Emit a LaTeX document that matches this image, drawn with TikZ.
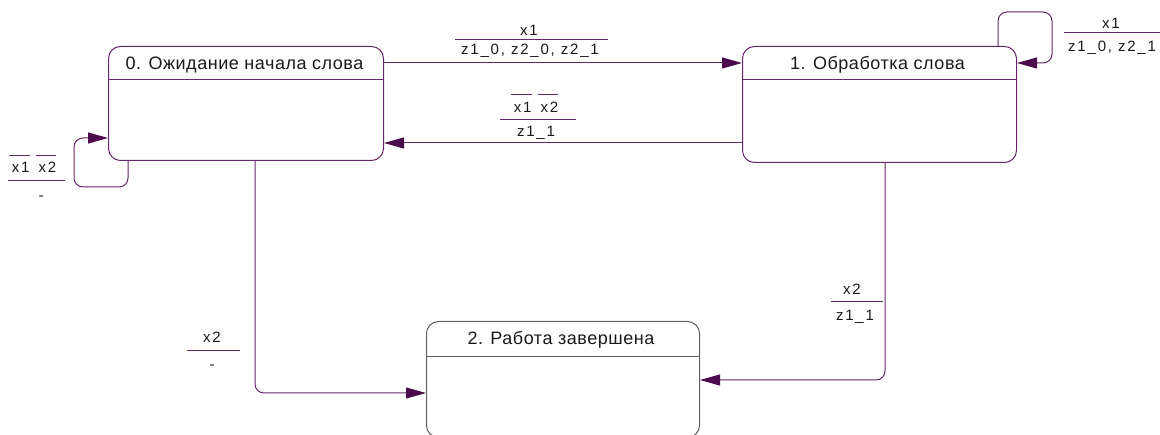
\documentclass[tikz,border=0pt]{standalone}
\usepackage{fontspec}
\setmainfont{Liberation Sans}
\newfontfamily\hdfont{Liberation Sans}[LetterSpace=3]
\newfontfamily\lbfont{Liberation Sans}[LetterSpace=12]
\usetikzlibrary{arrows.meta}
\definecolor{boxc}{RGB}{104,40,104}
\definecolor{greyc}{RGB}{96,96,96}
\definecolor{edgec}{RGB}{100,40,100}
\definecolor{tipc}{RGB}{75,10,75}
\definecolor{txtc}{RGB}{25,25,25}
\newcommand\ovbar[1]{\setbox0\hbox{#1}\rlap{\hspace{-3pt}\color{edgec}\rule[\dimexpr\ht0+7pt\relax]{\dimexpr\wd0+3pt\relax}{0.9pt}}\box0}
\begin{document}
\begin{tikzpicture}[x=1pt,y=-1pt,
 state/.style={draw=boxc, line width=1pt, rounded corners=12pt, anchor=north west, inner sep=0pt},
 hdtxt/.style={font=\hdfont\fontsize{18}{21}\selectfont, text=txtc, anchor=base, inner sep=0pt},
 lbtxt/.style={font=\lbfont\fontsize{15}{17}\selectfont, text=txtc, anchor=base, inner sep=0pt},
 edge/.style={draw=edgec, line width=1pt, rounded corners=9pt, -{Triangle[length=20pt,width=11pt,color=tipc]}},
 bar/.style={draw=edgec, line width=1pt}]
\useasboundingbox (0,0) rectangle (1160,435);
% states
\node[state, minimum width=275pt, minimum height=114pt] (s0) at (108,46) {};
\node[state, minimum width=274pt, minimum height=116pt] (s1) at (742,46) {};
\node[state, draw=greyc, minimum width=273pt, minimum height=116pt] (s2) at (426,321) {};
\draw[draw=boxc, line width=1pt] (s0.west |- 0,80) -- (s0.east |- 0,80);
\draw[draw=boxc, line width=1pt] (s1.west |- 0,80) -- (s1.east |- 0,80);
\draw[draw=greyc, line width=1pt] (s2.west |- 0,357) -- (s2.east |- 0,357);
\node[hdtxt] (h0) at (244.5,69.3) {0. Ожидание начала слова};
\node[hdtxt] (h1) at (877.5,69.3) {1. Обработка слова};
\node[hdtxt] (h2) at (561,345) {2. Работа завершена};
% transitions
\draw[edge] (s0.east |- 0,63) -- (s1.west |- 0,63);
\draw[edge] (s1.west |- 0,143) -- (s0.east |- 0,143);
\draw[edge] (s1.north -| 998,0) |- (1052,12) |- (s1.east |- 0,63);
\draw[edge] (s0.south -| 128,0) |- (74,187) |- (s0.west |- 0,138);
\draw[edge] (s0.south -| 255,0) |- (s2.west |- 0,393);
\draw[edge] (s1.south -| 885,0) |- (s2.east |- 0,380);
% labels
\node[lbtxt] (l01n) at (529,36) {x1};
\draw[bar] (455,40) -- (608,40);
\node[lbtxt] (l01d) at (530,54.3) {z1\_0, z2\_0, z2\_1};
\node[lbtxt] (l10n) at (536,112.7) {\ovbar{x1}\hspace{9pt}\ovbar{x2}};
\draw[bar] (500,120) -- (576,120);
\node[lbtxt] (l10d) at (536,136.7) {z1\_1};
\node[lbtxt] (l11n) at (1111,28.7) {x1};
\draw[bar] (1064,33) -- (1160,33);
\node[lbtxt, anchor=base west] (l11d) at (1068,51.5) {z1\_0, z2\_1};
\node[lbtxt] (l00n) at (34,173) {\ovbar{x1}\hspace{9pt}\ovbar{x2}};
\draw[bar] (8,181) -- (65,181);
\node[lbtxt] (l00d) at (41,201) {-};
\node[lbtxt] (l02n) at (212,343) {x2};
\draw[bar] (187,351) -- (240,351);
\node[lbtxt] (l02d) at (212,370) {-};
\node[lbtxt] (l12n) at (852,295) {x2};
\draw[bar] (831,302) -- (883,302);
\node[lbtxt] (l12d) at (855,321) {z1\_1};
\end{tikzpicture}
\end{document}
